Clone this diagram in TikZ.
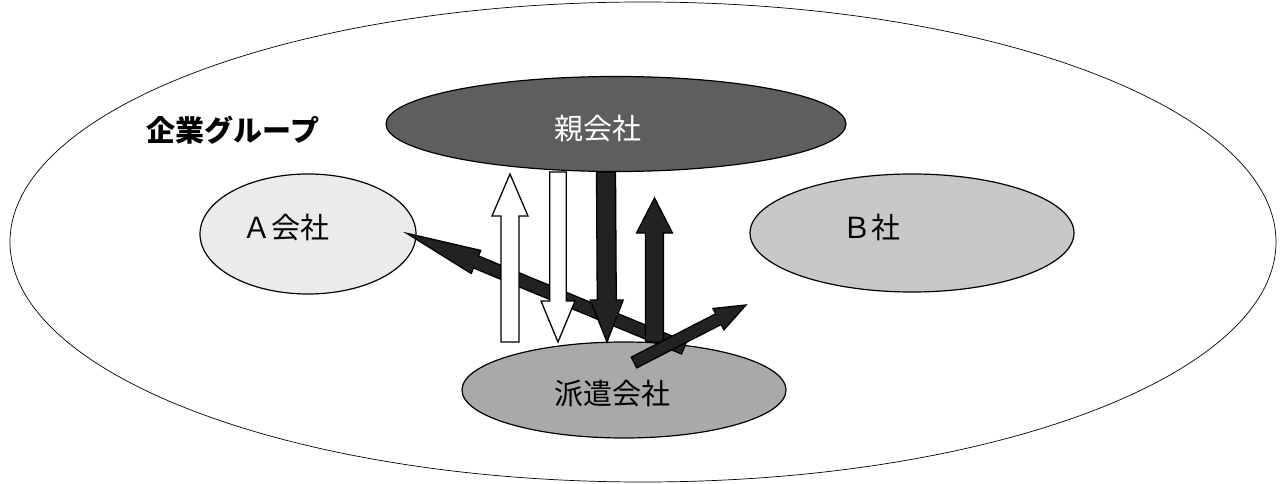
\documentclass[tikz,border=0pt]{standalone}
\usepackage{fontspec}
\newfontfamily\jp{Noto Sans CJK JP}
\usetikzlibrary{shapes.geometric,calc}
\definecolor{parentgray}{HTML}{5E5E5E}
\definecolor{agray}{HTML}{EBEBEB}
\definecolor{bgray}{HTML}{C8C8C8}
\definecolor{hgray}{HTML}{A9A9A9}
\definecolor{darkarrow}{HTML}{222222}
\newcommand\blockarr[6]{%
  \coordinate (ba-h) at ($(#2)!#5!(#1)$);
  \filldraw[fill=#6, draw=black, line width=1.3pt, line join=miter]
    ($(#1)!#3!90:(#2)$) -- ($(ba-h)!#3!-90:(#1)$) -- ($(ba-h)!#4!-90:(#1)$) --
    (#2) -- ($(ba-h)!#4!90:(#1)$) -- ($(ba-h)!#3!90:(#1)$) --
    ($(#1)!#3!-90:(#2)$) -- cycle;
}
\tikzset{
  org/.style={ellipse, draw=black, line width=1.2pt, inner sep=0pt},
  lbl/.style={inner sep=0pt, font=\jp\fontsize{29}{34}\selectfont}
}
\begin{document}
\begin{tikzpicture}[x=1pt, y=-1pt]
\useasboundingbox (0,0) rectangle (1282,484);
\node[ellipse, draw=black, line width=0.7pt, minimum width=1266pt, minimum height=480pt, inner sep=0pt] (group) at (643,242) {};
\node[lbl, font=\jp\bfseries\fontsize{29}{34}\selectfont] (grouplbl) at (233,130) {企業グループ};
\node[org, fill=parentgray, minimum width=460pt, minimum height=95pt] (parent) at (616,124) {};
\node[lbl, text=white] (parentlbl) at (598,129) {親会社};
\node[org, fill=agray, minimum width=216pt, minimum height=120pt] (compA) at (308,234) {};
\node[lbl] (compAlbl) at (286,228) {Ａ会社};
\node[org, fill=bgray, minimum width=324pt, minimum height=118pt] (compB) at (912,233) {};
\node[lbl] (compBlbl) at (871,227) {Ｂ社};
\node[org, fill=hgray, minimum width=324pt, minimum height=96pt] (haken) at (624,390) {};
\node[lbl] (hakenlbl) at (612,393.5) {派遣会社};
% arrow end points
\coordinate (w1t) at (510,342); \coordinate (w1h) at (510,174);
\coordinate (w2t) at (558,172); \coordinate (w2h) at (558,342);
\coordinate (d1t) at (606,172); \coordinate (d1h) at (607,342);
\coordinate (d2t) at (654.5,342); \coordinate (d2h) at (654.5,198);
\coordinate (a5t) at (684,348); \coordinate (a5h) at (406.7,233.3);
\coordinate (a6t) at (634,362.5); \coordinate (a6h) at (746,305);
\blockarr{a5t}{a5h}{6.5pt}{12.5pt}{75pt}{darkarrow}
\blockarr{w1t}{w1h}{9pt}{18pt}{42pt}{white}
\blockarr{w2t}{w2h}{8.3pt}{17pt}{41pt}{white}
\blockarr{d1t}{d1h}{9.5pt}{16.5pt}{42pt}{darkarrow}
\blockarr{d2t}{d2h}{9pt}{18pt}{35pt}{darkarrow}
\blockarr{a6t}{a6h}{6pt}{12pt}{31pt}{darkarrow}
\end{tikzpicture}
\end{document}
